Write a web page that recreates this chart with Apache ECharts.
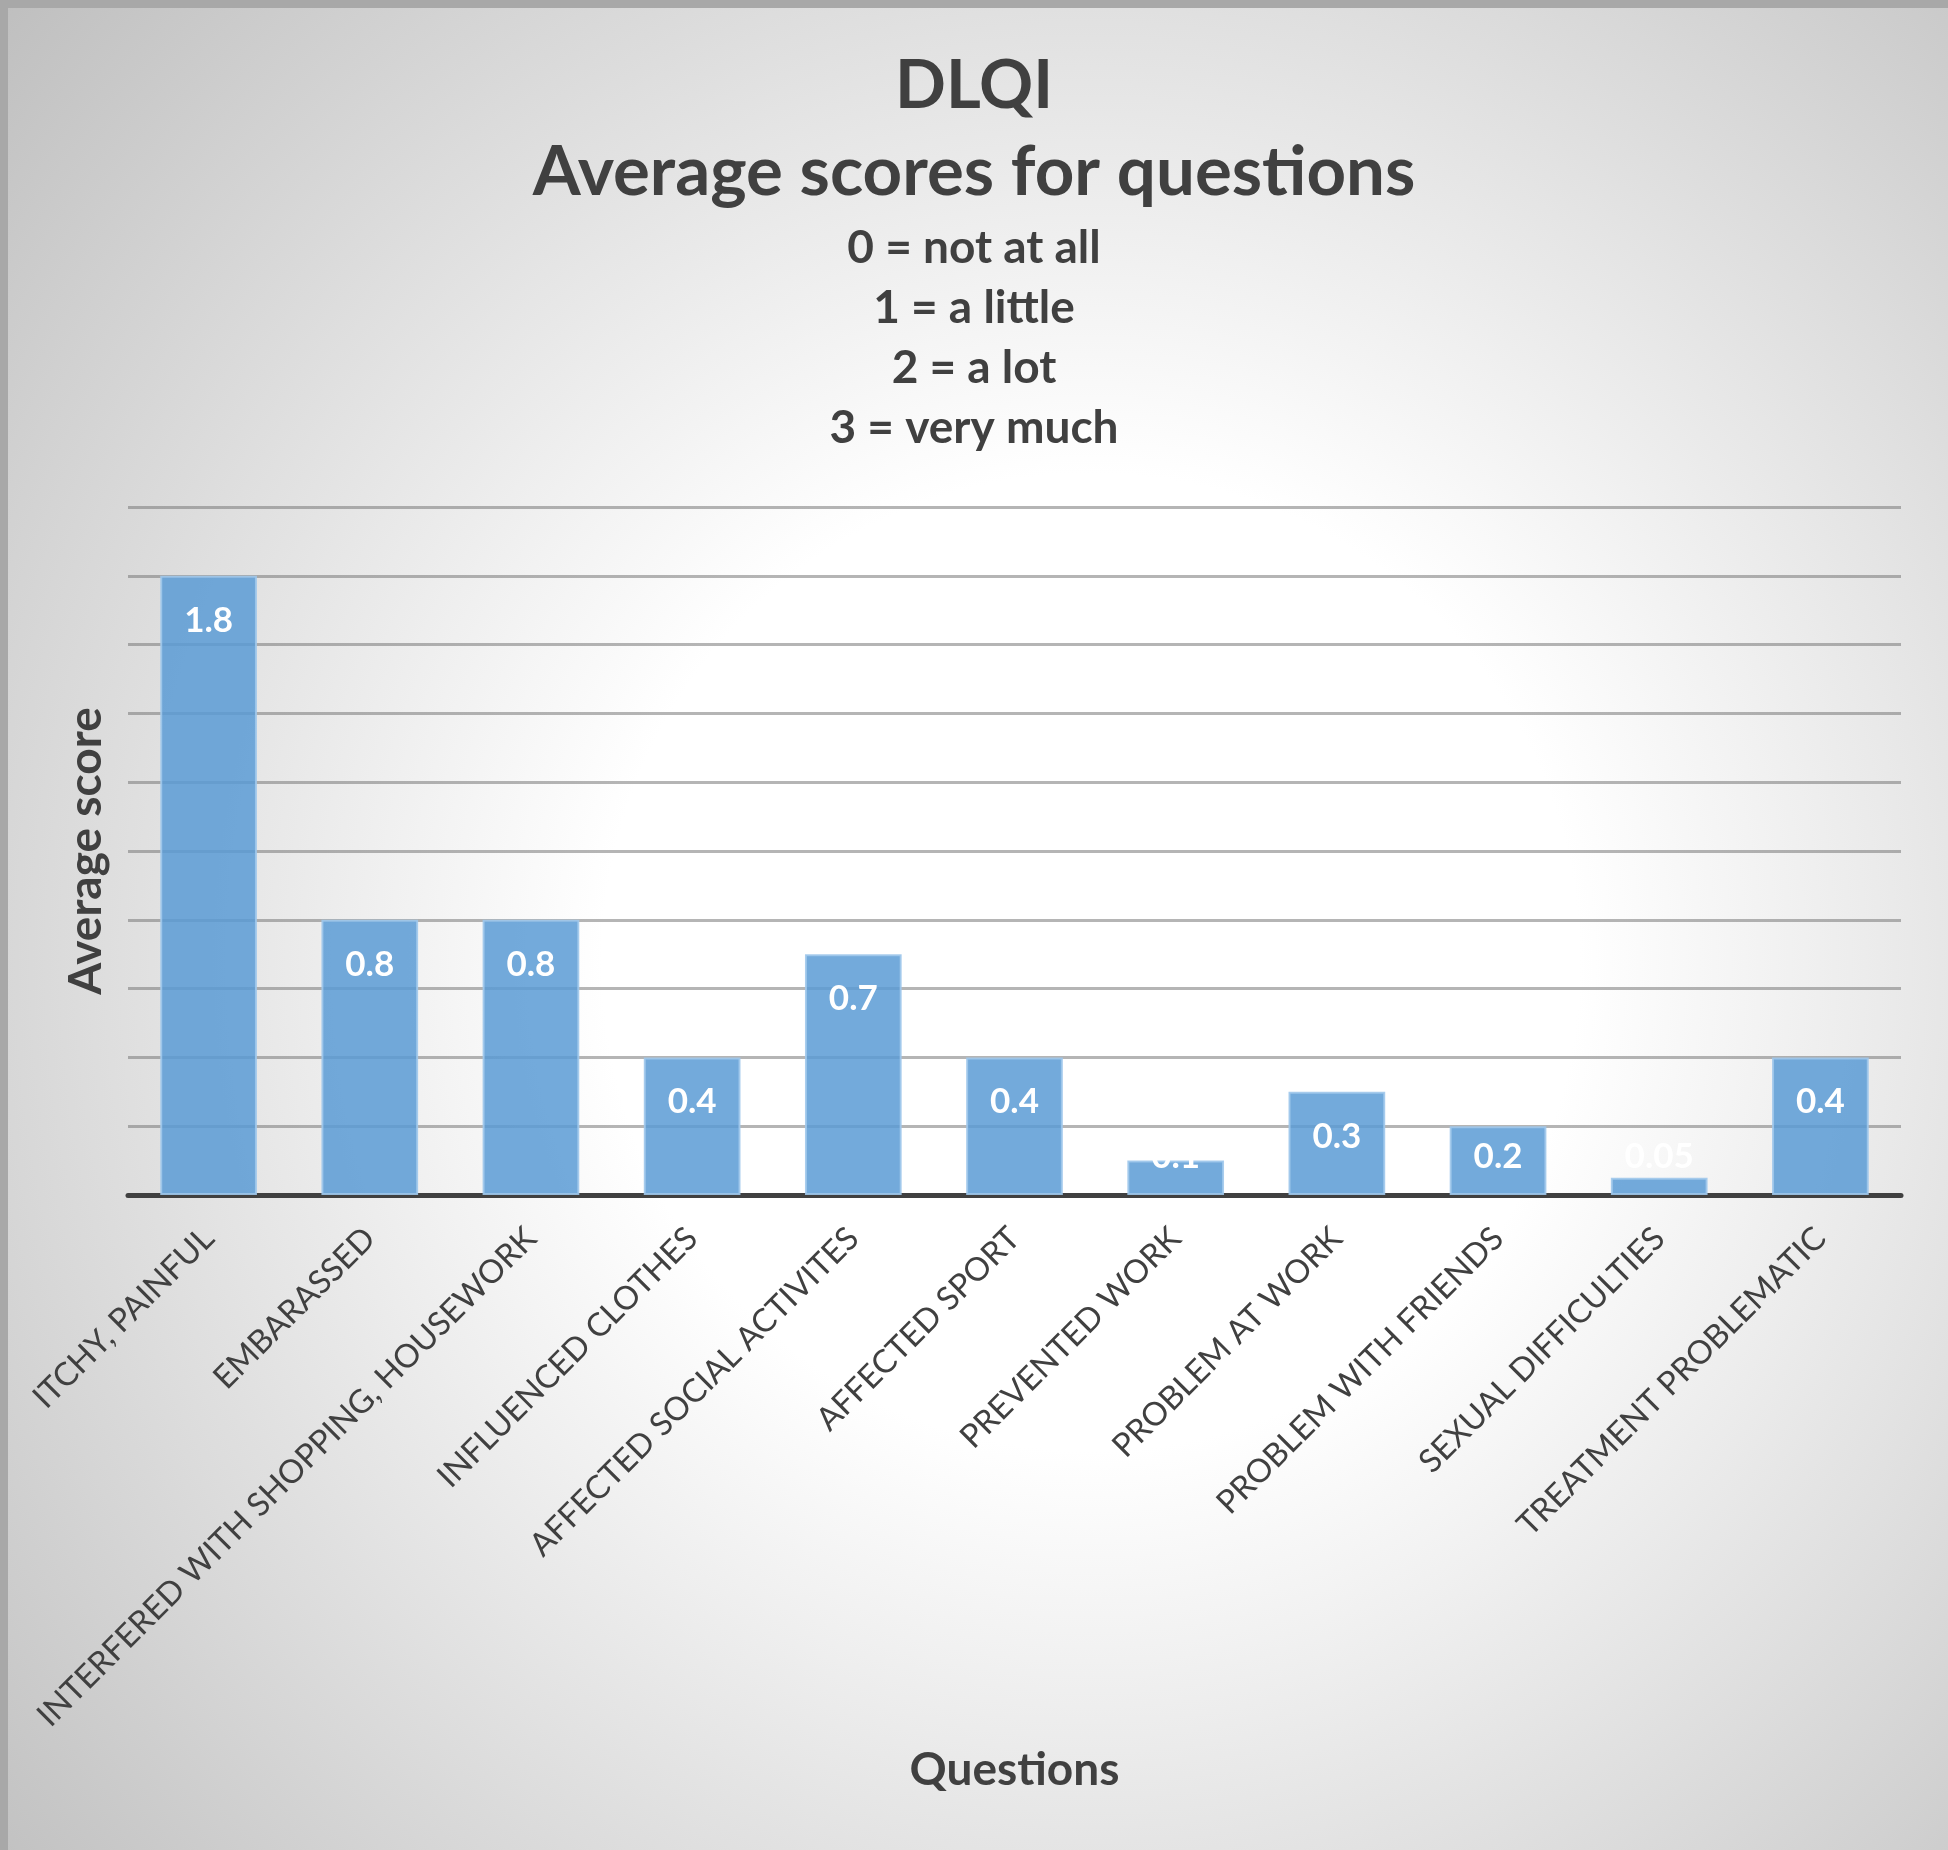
<!DOCTYPE html>
<html>
<head>
<meta charset="utf-8">
<script src="https://cdn.jsdelivr.net/npm/echarts@6/dist/echarts.min.js"></script>
<style>
html,body{margin:0;padding:0;background:#fff;}
#chart{width:1948px;height:1850px;}
</style>
</head>
<body>
<div id="chart"></div>
<script>
const categories = [
  "ITCHY, PAINFUL",
  "EMBARASSED",
  "INTERFERED WITH SHOPPING, HOUSEWORK",
  "INFLUENCED CLOTHES",
  "AFFECTED SOCIAL ACTIVITES",
  "AFFECTED SPORT",
  "PREVENTED WORK",
  "PROBLEM AT WORK",
  "PROBLEM WITH FRIENDS",
  "SEXUAL DIFFICULTIES",
  "TREATMENT PROBLEMATIC"
];
const averageScores = [1.8, 0.8, 0.8, 0.4, 0.7, 0.4, 0.1, 0.3, 0.2, 0.05, 0.4];
const titleMain = "DLQI";
const titleSecond = "Average scores for questions";
const scaleLines = ["0 = not at all", "1 = a little", "2 = a lot", "3 = very much"];
const yAxisName = "Average score";
const xAxisName = "Questions";

const FONT = "Lato, 'Open Sans', sans-serif";
const TXT = "#404040";

const chart = echarts.init(document.getElementById('chart'), null, {renderer: 'canvas'});

const barData = averageScores.map(v => ({
  value: v,
  label: v >= 0.3
    ? {position: 'insideTop', distance: 27}
    : {position: 'insideBottom', distance: 21}
}));

chart.setOption({
  animation: false,
  backgroundColor: {
    type: 'radial', x: 0.56, y: 0.52, r: 0.8,
    colorStops: [
      {offset: 0, color: '#ffffff'},
      {offset: 0.33, color: '#ffffff'},
      {offset: 1, color: '#bdbdbd'}
    ]
  },
  graphic: [{
    type: 'rect', left: 0, top: 0, z: 100, silent: true,
    shape: {x: 0, y: 0, width: 1948, height: 1850},
    style: {fill: 'none', stroke: '#a8a8a8', lineWidth: 8}
  }],
  title: [
    {text: titleMain, left: 'center', top: 46,
     textStyle: {fontFamily: FONT, fontWeight: 'bold', fontSize: 67, lineHeight: 70, color: TXT}},
    {text: titleSecond, left: 'center', top: 133,
     textStyle: {fontFamily: FONT, fontWeight: 'bold', fontSize: 69, lineHeight: 70, color: TXT}},
    {text: scaleLines.join('\n'), left: 'center', top: 213,
     textStyle: {fontFamily: FONT, fontWeight: 'bold', fontSize: 46, lineHeight: 60, color: TXT, align: 'center'}}
  ],
  grid: {left: 128, right: 47, top: 507, bottom: 655, containLabel: false},
  xAxis: {
    type: 'category',
    data: categories,
    name: xAxisName,
    nameLocation: 'middle',
    nameGap: 552,
    nameTextStyle: {fontFamily: FONT, fontWeight: 'bold', fontSize: 46, color: TXT},
    axisLine: {show: true, lineStyle: {color: '#404040', width: 5}},
    axisTick: {show: false},
    axisLabel: {interval: 0, rotate: 45, margin: 38, fontFamily: FONT, fontSize: 32.5, color: TXT}
  },
  yAxis: {
    type: 'value',
    min: 0, max: 2, interval: 0.2,
    name: yAxisName,
    nameLocation: 'middle',
    nameRotate: 90,
    nameGap: 19,
    nameTextStyle: {fontFamily: FONT, fontWeight: 'bold', fontSize: 46, color: TXT},
    axisLine: {show: false},
    axisTick: {show: false},
    axisLabel: {show: false},
    splitLine: {show: true, lineStyle: {color: 'rgba(120,120,120,0.55)', width: 3}}
  },
  series: [{
    type: 'bar',
    data: barData,
    barCategoryGap: '40%',
    z: 3,
    itemStyle: {color: 'rgba(91,155,213,0.85)', borderColor: 'rgba(160,200,235,0.9)', borderWidth: 2},
    label: {show: true, formatter: '{c}', color: '#ffffff', fontFamily: FONT, fontWeight: 'bold', fontSize: 35}
  }]
});
</script>
</body>
</html>
